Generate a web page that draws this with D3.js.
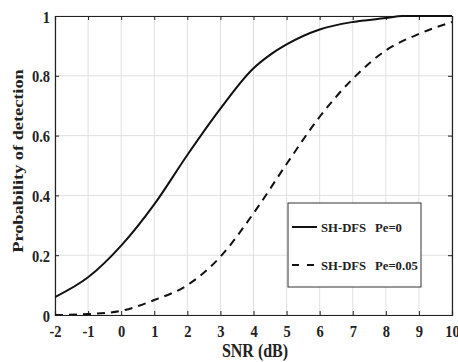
<!DOCTYPE html>
<html><head><meta charset="utf-8">
<script src="https://cdn.jsdelivr.net/npm/d3@7"></script>
<style>body{margin:0;background:#fff}svg{display:block}</style>
</head><body>
<script>
const xTicks = [-2,-1,0,1,2,3,4,5,6,7,8,9,10];
const yTicks = [0,0.2,0.4,0.6,0.8,1];
const yTickLabels = ["0","0.2","0.4","0.6","0.8","1"];
const snr = [-2,-1,0,1,2,3,4,4.5,5,6,7,8,8.5,9,10];
const pdSolid = [0.06,0.126,0.232,0.37,0.535,0.69,0.825,0.87,0.905,0.955,0.98,0.993,1.0,1.0,1.0];
const snrDash = [-2,-1,0,1,2,3,4,5,6,7,8,9,10];
const pdDash = [0.0,0.003,0.014,0.05,0.1,0.195,0.34,0.505,0.663,0.79,0.885,0.94,0.98];
const seriesNames = ["SH-DFS  Pe=0","SH-DFS  Pe=0.05"];

const W=458,H=362;
const m={l:55,t:16,r:452,b:315};
const svg=d3.select("body").append("svg").attr("width",W).attr("height",H);
const x=d3.scaleLinear().domain([-2,10]).range([m.l,m.r]);
const y=d3.scaleLinear().domain([0,1]).range([m.b,m.t]);
const font="'Liberation Serif','Times New Roman',serif";
const SY=1.22;

// grid
svg.append("g").selectAll("line").data(xTicks).join("line")
 .attr("x1",d=>x(d)).attr("x2",d=>x(d)).attr("y1",m.t).attr("y2",m.b)
 .attr("stroke","#e0e0e0").attr("stroke-width",1);
svg.append("g").selectAll("line").data(yTicks).join("line")
 .attr("y1",d=>y(d)).attr("y2",d=>y(d)).attr("x1",m.l).attr("x2",m.r)
 .attr("stroke","#e0e0e0").attr("stroke-width",1);

// axes
const xb=svg.append("g").attr("transform",`translate(0,${m.b})`)
 .call(d3.axisBottom(x).tickValues(xTicks).tickSize(-4).tickFormat(d=>String(d)));
const xt=svg.append("g").attr("transform",`translate(0,${m.t})`)
 .call(d3.axisTop(x).tickValues(xTicks).tickSize(-4).tickFormat(""));
const yl=svg.append("g").attr("transform",`translate(${m.l},0)`)
 .call(d3.axisLeft(y).tickValues(yTicks).tickSize(-4).tickFormat((d,i)=>yTickLabels[i]));
const yr=svg.append("g").attr("transform",`translate(${m.r},0)`)
 .call(d3.axisRight(y).tickValues(yTicks).tickSize(-4).tickFormat(""));
[xb,xt,yl,yr].forEach(g=>{
 g.selectAll(".domain").attr("stroke","#222").attr("stroke-width",1.2);
 g.selectAll(".tick line").attr("stroke","#222");
 g.selectAll("text").attr("font-family",font).attr("font-weight","bold").attr("font-size",14.5).attr("fill","#222");
});
xb.selectAll("text").attr("y",null).attr("dy",null).attr("transform",`translate(0,22) scale(1,${SY})`);
yl.selectAll("text").attr("x",null).attr("dy",null).attr("transform",`translate(-5,6) scale(1,${SY})`);

// lines
svg.append("clipPath").attr("id","c").append("rect")
 .attr("x",m.l).attr("y",m.t-1).attr("width",m.r-m.l).attr("height",m.b-m.t+1);
const line=d3.line().x(d=>x(d[0])).y(d=>y(d[1])).curve(d3.curveMonotoneX);
svg.append("path").datum(snr.map((s,i)=>[s,pdSolid[i]])).attr("d",line)
 .attr("fill","none").attr("stroke","#111").attr("stroke-width",2).attr("clip-path","url(#c)");
svg.append("path").datum(snrDash.map((s,i)=>[s,pdDash[i]])).attr("d",line)
 .attr("fill","none").attr("stroke","#111").attr("stroke-width",2).attr("stroke-dasharray","8,6").attr("clip-path","url(#c)");

// labels
svg.append("text").attr("transform",`translate(255,357) scale(1,${SY})`).attr("text-anchor","middle")
 .attr("font-family",font).attr("font-weight","bold").attr("font-size",16).attr("fill","#222").text("SNR (dB)");
svg.append("text").attr("transform",`translate(23,161) rotate(-90) scale(${SY},1)`).attr("text-anchor","middle")
 .attr("font-family",font).attr("font-weight","bold").attr("font-size",15).attr("fill","#222").text("Probability of detection");

// legend
const lg=svg.append("g");
lg.append("rect").attr("x",288).attr("y",203).attr("width",133).attr("height",84)
 .attr("fill","#fff").attr("stroke","#333").attr("stroke-width",1);
const dashes=[null,"7,8"];
seriesNames.forEach((n,i)=>{
 const yy=[227,265][i];
 const parts=n.split("  ");
 lg.append("line").attr("x1",292).attr("x2",317).attr("y1",yy).attr("y2",yy)
  .attr("stroke","#111").attr("stroke-width",2).attr("stroke-dasharray",dashes[i]);
 const t=lg.append("text").attr("y",yy+4.5).attr("font-family",font).attr("font-weight","bold")
  .attr("font-size",12.7).attr("fill","#222");
 t.append("tspan").attr("x",321).text(parts[0]);
 t.append("tspan").attr("x",375).text(parts[1]);
});
</script>
</body></html>
